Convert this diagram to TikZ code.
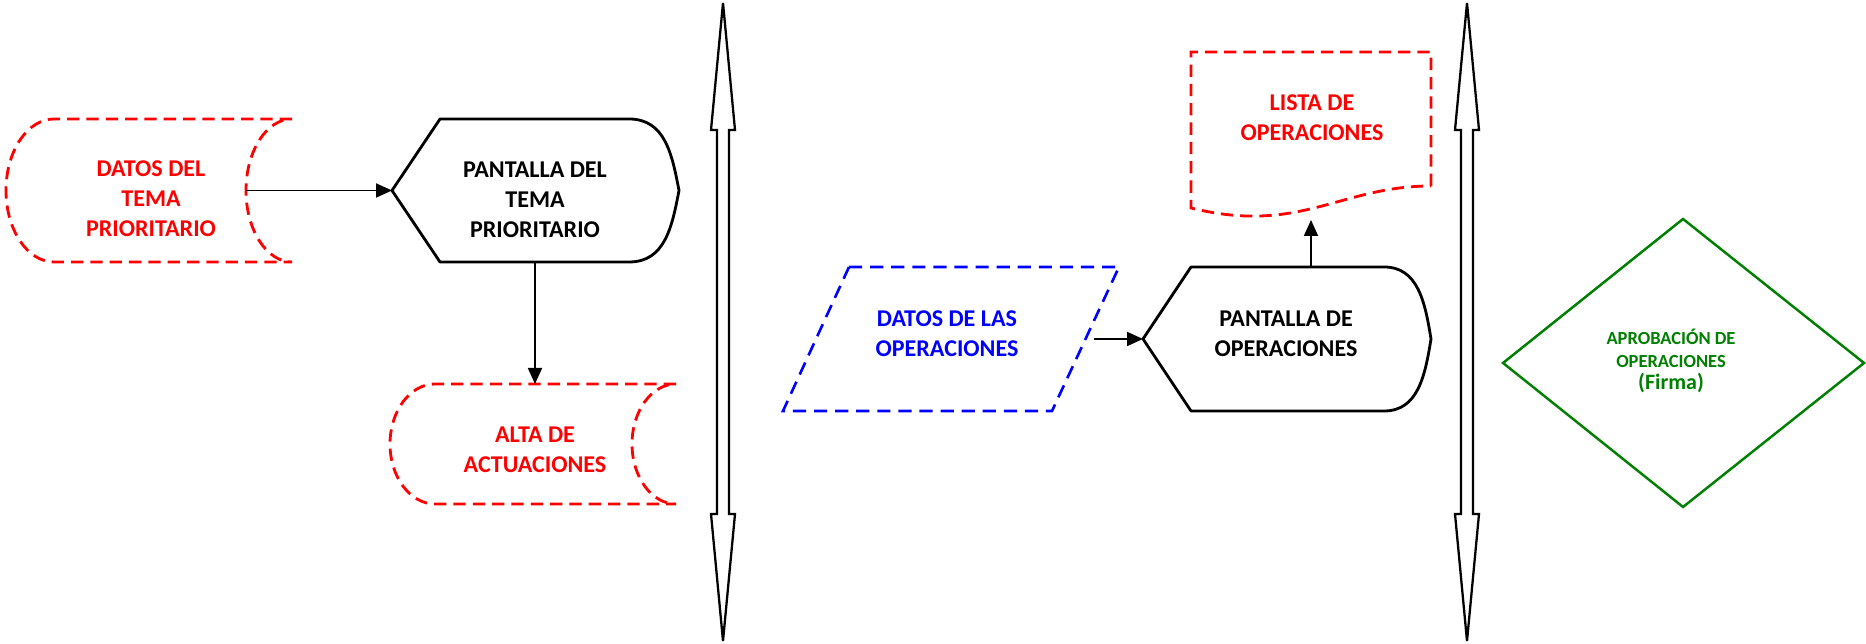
\documentclass[tikz,border=0pt]{standalone}
\usepackage{fontspec}
\setmainfont{Carlito}
\usetikzlibrary{arrows.meta}
\definecolor{aprobgreen}{RGB}{0,128,0}
\tikzset{
  lbl/.style={align=center, font=\bfseries\fontsize{13.7}{17}\selectfont},
  smalllbl/.style={align=center, font=\bfseries\fontsize{10.5}{13}\selectfont},
  reddash/.style={draw=red, line width=1.6pt, dash pattern=on 7pt off 4pt},
  bluedash/.style={draw=blue, line width=1.5pt, dash pattern=on 7.5pt off 4.5pt},
  solidshape/.style={draw=black, line width=1.6pt, line join=round},
  greenshape/.style={draw=aprobgreen, line width=1.4pt},
  blockline/.style={draw=black, line width=1.3pt},
  flow/.style={line width=1pt, -{Triangle[length=0.32cm,width=0.28cm]}}
}
\def\dblarrow(#1){\draw[blockline] (#1,641) -- (#1+12,514) -- (#1+6,514) -- (#1+6,130) -- (#1+12,130) -- (#1,3) -- (#1-12,130) -- (#1-6,130) -- (#1-6,514) -- (#1-12,514) -- cycle;}

\begin{document}
\begin{tikzpicture}[x=0.02cm, y=0.02cm]
		%%%%% START %%%%%
		\useasboundingbox (0,0) rectangle (1866,644);
		
		\draw[reddash] (292,525) -- (54,525) arc[start angle=90, end angle=270, x radius=48, y radius=71.5] -- (292,382) arc[start angle=270, end angle=90, x radius=46, y radius=71.5];
		\node[lbl, red] (datos) at (151,445) {DATOS DEL\\TEMA\\PRIORITARIO};
		\coordinate (datosE) at (246,453.5);
		
		\draw[solidshape] (392,453.5) -- (440,525) -- (629,525) .. controls (665,525) and (672,490) .. (679,453.5) .. controls (672,417) and (665,382) .. (629,382) -- (440,382) -- cycle;
		\node[lbl] (pantalla) at (535,444) {PANTALLA DEL\\TEMA\\PRIORITARIO};
		\coordinate (pantallaW) at (392,453.5);
		\coordinate (pantallaS) at (535,382);
		
		\draw[reddash] (676,260) -- (435,260) arc[start angle=90, end angle=270, x radius=45, y radius=60] -- (676,140) arc[start angle=270, end angle=90, x radius=44, y radius=60];
		\node[lbl, red] (alta) at (535,194) {ALTA DE\\ACTUACIONES};
		\coordinate (altaN) at (535,260);
		
		\dblarrow(723)
		
		\draw[bluedash] (849,377) -- (1119,377) -- (1052,233) -- (783,233) -- cycle;
		\node[lbl, blue] (datosop) at (947,310) {DATOS DE LAS\\OPERACIONES};
		\coordinate (datosopE) at (1094,305);
		
		\draw[solidshape] (1143,305) -- (1191,377) -- (1384,377) .. controls (1418,377) and (1425,342) .. (1431,305) .. controls (1425,268) and (1418,233) .. (1384,233) -- (1191,233) -- cycle;
		\node[lbl] (pantallaop) at (1286,310) {PANTALLA DE\\OPERACIONES};
		\coordinate (pantallaopW) at (1143,305);
		\coordinate (pantallaopN) at (1311,377);
		
		\draw[reddash] (1431,458) -- (1431,592) -- (1191,592) -- (1191,436) .. controls (1300,409) and (1340,458) .. (1431,458);
		\node[lbl, red] (lista) at (1312,526) {LISTA DE\\OPERACIONES};
		\coordinate (listaS) at (1311,424);
		
		\dblarrow(1467)
		
		\draw[greenshape] (1683,425) -- (1864,281) -- (1683,137) -- (1503,281) -- cycle;
		\node[smalllbl, aprobgreen] (aprobacion) at (1671,283) {APROBACIÓN DE\\OPERACIONES\\\fontsize{12.5}{15}\selectfont (Firma)};
		
		\draw[flow] (datosE) -- (pantallaW);
		\draw[flow] (pantallaS) -- (altaN);
		\draw[flow] (datosopE) -- (pantallaopW);
		\draw[flow] (pantallaopN) -- (listaS);
		
		%%%%% END %%%%%
\end{tikzpicture}
\end{document}
